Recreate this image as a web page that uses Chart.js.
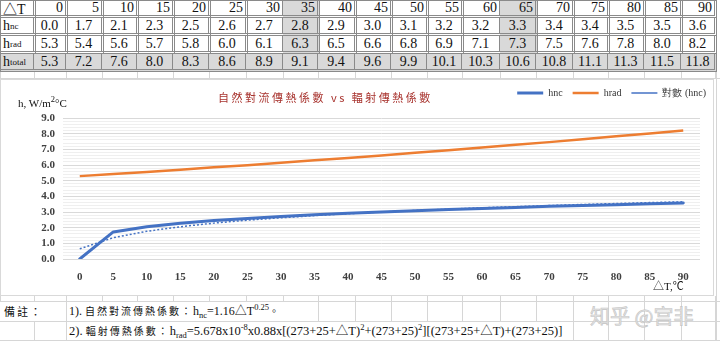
<!DOCTYPE html>
<html>
<head>
<meta charset="utf-8">
<script src="https://cdn.jsdelivr.net/npm/chart.js@4.4.0/dist/chart.umd.min.js"></script>
<style>
  body { margin: 0; width: 720px; height: 341px; overflow: hidden; position: relative; background: #fff;
         font-family: 'Liberation Serif', 'Noto Sans CJK TC', serif; color: #111; }
  .cell { position: absolute; box-sizing: border-box; height: 18px; display: flex; align-items: center;
          font-size: 14px; border-right: 3px double #8a8a8a; border-bottom: 3px double #8a8a8a; white-space: nowrap; }
  .cell sub { font-size: 9px; vertical-align: -3px; line-height: 0; }
  .gl { position: absolute; background: #d6d6d6; }
  #box { position: absolute; left: 0; top: 79px; width: 714px; height: 217px; box-sizing: border-box;
         border: 1px solid #d9d9d9; background: #fff; }
  #c { position: absolute; left: 0; top: 79px; }
  .ov { position: absolute; white-space: nowrap; }
  .note { position: absolute; height: 20px; line-height: 20px; font-size: 12px; white-space: nowrap; }
  .note sub, .note sup, .ov sup { font-size: 8.5px; line-height: 0; }
  .note sub { vertical-align: -3px; }
  .note sup, .ov sup { vertical-align: 5px; }
  .cj { font-family: 'Noto Sans CJK TC', sans-serif; font-size: 10px; letter-spacing: 2px; }
</style>
</head>
<body>
<div id="sheet"></div>
<div id="box"></div>
<canvas id="c" width="714" height="217"></canvas>

<div class="ov" style="left:218px;top:89px;font-family:'Noto Sans CJK TC',sans-serif;font-size:11px;letter-spacing:2.5px;color:#a8332e;line-height:16px;">自然對流傳熱係數 vs 輻射傳熱係數</div>
<div class="ov" style="left:18px;top:96px;font-size:11px;line-height:14px;">h, W/m<sup>2</sup>°C</div>
<div class="ov" style="left:653px;top:279px;font-size:11px;line-height:14px;">△T,℃</div>

<div class="note" style="left:4px;top:301px;"><span class="cj" style="font-size:11px">備註：</span></div>
<div class="note" style="left:69px;top:301px;">1). <span class="cj">自然對流傳熱係數：</span>h<sub>nc</sub>=1.16△T<sup>0.25</sup><span class="cj">。</span></div>
<div class="note" style="left:69px;top:321px;font-size:12.5px;">2). <span class="cj">輻射傳熱係數：</span>h<sub>rad</sub>=5.678x10<sup>-8</sup>x0.88x[(273+25+△T)<sup>2</sup>+(273+25)<sup>2</sup>][(273+25+△T)+(273+25)]</div>
<div class="ov" style="left:590px;top:301px;font-family:'Noto Sans CJK SC',sans-serif;font-size:20px;color:#e4e4e4;-webkit-text-stroke:0.6px #c4c4c4;">知乎 @宫非</div>

<script>
var dT = [0, 5, 10, 15, 20, 25, 30, 35, 40, 45, 50, 55, 60, 65, 70, 75, 80, 85, 90];
var hnc = [0.00, 1.73, 2.06, 2.28, 2.45, 2.59, 2.71, 2.82, 2.92, 3.00, 3.08, 3.16, 3.23, 3.29, 3.36, 3.42, 3.47, 3.52, 3.58];
var hrad = [5.29, 5.42, 5.56, 5.70, 5.85, 5.99, 6.14, 6.30, 6.45, 6.61, 6.78, 6.94, 7.11, 7.29, 7.46, 7.64, 7.83, 8.01, 8.20];
var htotal = [5.3, 7.2, 7.6, 8.0, 8.3, 8.6, 8.9, 9.1, 9.4, 9.6, 9.9, 10.1, 10.3, 10.6, 10.8, 11.1, 11.3, 11.5, 11.8];
// log trendline of hnc
var hncLog = [0.65, 1.36, 1.77, 2.06, 2.29, 2.48, 2.63, 2.77, 2.89, 3.00, 3.10, 3.18, 3.27, 3.34, 3.41, 3.48, 3.54, 3.60, 3.65];
var shadedCols = [35, 65];

// spreadsheet table
var colX = [0, 34, 66, 102, 137, 173, 209, 246, 283, 318, 355, 391, 427, 462, 500, 536, 573, 608, 644, 681, 715];
var sheet = document.getElementById('sheet');
var rowNames = ['△T', 'h<sub>nc</sub>', 'h<sub>rad</sub>', 'h<sub>total</sub>'];
var rows = [dT.map(String), hnc.map(v => v.toFixed(1)), hrad.map(v => v.toFixed(1)), htotal.map(v => v.toFixed(1))];

function line(x, y, w, h) {
  var d = document.createElement('div');
  d.className = 'gl';
  d.style.cssText = 'left:' + x + 'px;top:' + y + 'px;width:' + w + 'px;height:' + h + 'px;';
  sheet.appendChild(d);
}

rows.forEach(function(vals, r) {
  for (var c = 0; c < colX.length - 1; c++) {
    var d = document.createElement('div');
    d.className = 'cell';
    var st = 'left:' + colX[c] + 'px;top:' + (r * 18) + 'px;width:' + (colX[c + 1] - colX[c] + 2) + 'px;';
    if (r === 0) st += 'border-top:1px solid #8a8a8a;';
    if (c === 0) st += 'border-left:1px solid #8a8a8a;';
    var grey = r === 3 || (c > 0 && shadedCols.indexOf(dT[c - 1]) >= 0);
    if (grey) st += 'background:#d9d9d9;';
    if (c === 0) { st += 'justify-content:flex-start;padding-left:2px;'; d.innerHTML = rowNames[r]; }
    else if (r === 0) { st += 'justify-content:flex-end;padding-right:2px;'; d.textContent = vals[c - 1]; }
    else { st += 'justify-content:center;'; d.textContent = vals[c - 1]; }
    d.style.cssText = st;
    sheet.appendChild(d);
  }
});

// empty cell grid around the chart
line(0, 78, 720, 1);
colX.forEach(function(x) { line(x, 72, 1, 7); line(x, 296, 1, 5); });
line(0, 301, 720, 1); line(0, 321, 720, 1); line(0, 340, 720, 1);
line(716, 72, 1, 269);
colX.forEach(function(x) {
  if (x === 66 || x >= 318) line(x, 301, 1, 20);
  if (x === 34 || x === 66 || x >= 573) line(x, 321, 1, 19);
});

var serif = 'Liberation Serif, Times New Roman, serif';

var legendShift = {
  id: 'legendShift',
  afterLayout: function(chart) {
    var lg = chart.legend;
    lg.top -= 10; lg.bottom -= 10;
    lg.left += 16; lg.right += 16;
  }
};

new Chart(document.getElementById('c'), {
  type: 'line',
  data: {
    labels: dT.map(String),
    datasets: [
      { label: 'hnc', data: hnc, borderColor: '#4472c4', borderWidth: 3, pointRadius: 0,
        borderJoinStyle: 'round', borderCapStyle: 'round' },
      { label: 'hrad', data: hrad, borderColor: '#ed7d31', borderWidth: 2.5, pointRadius: 0 },
      { label: '對數 (hnc)', data: hncLog, borderColor: '#4472c4', borderWidth: 1.5, borderDash: [2, 2],
        pointRadius: 0 }
    ]
  },
  options: {
    responsive: false,
    animation: false,
    layout: { padding: { top: 9, right: 14, bottom: 0, left: 0 } },
    plugins: {
      legend: {
        position: 'top',
        align: 'end',
        labels: {
          usePointStyle: true,
          pointStyle: 'line',
          pointStyleWidth: 26,
          padding: 10,
          color: '#333',
          font: { family: serif, size: 10 }
        }
      },
      tooltip: { enabled: false }
    },
    scales: {
      x: {
        type: 'category',
        offset: true,
        grid: { display: false },
        border: { display: false },
        ticks: { padding: 4, color: '#404040', maxRotation: 0, autoSkip: false,
                 font: { family: serif, size: 11, weight: 'bold' } },
        afterFit: function(s) { s.height = 37; }
      },
      y: {
        min: 0,
        max: 9,
        border: { display: false },
        grid: {
          drawTicks: false,
          color: function(c) {
            return Math.abs(c.tick.value - Math.round(c.tick.value)) < 1e-6 ? '#d9d9d9' : '#efefef';
          }
        },
        ticks: {
          stepSize: 0.2,
          maxTicksLimit: 100,
          autoSkip: false,
          padding: 8,
          color: '#404040',
          font: { family: serif, size: 11, weight: 'bold' },
          callback: function(v) {
            return Math.abs(v - Math.round(v)) < 1e-6 ? v.toFixed(1) : '';
          }
        },
        afterFit: function(s) { s.width = 63; }
      }
    }
  },
  plugins: [legendShift]
});
</script>
</body>
</html>
